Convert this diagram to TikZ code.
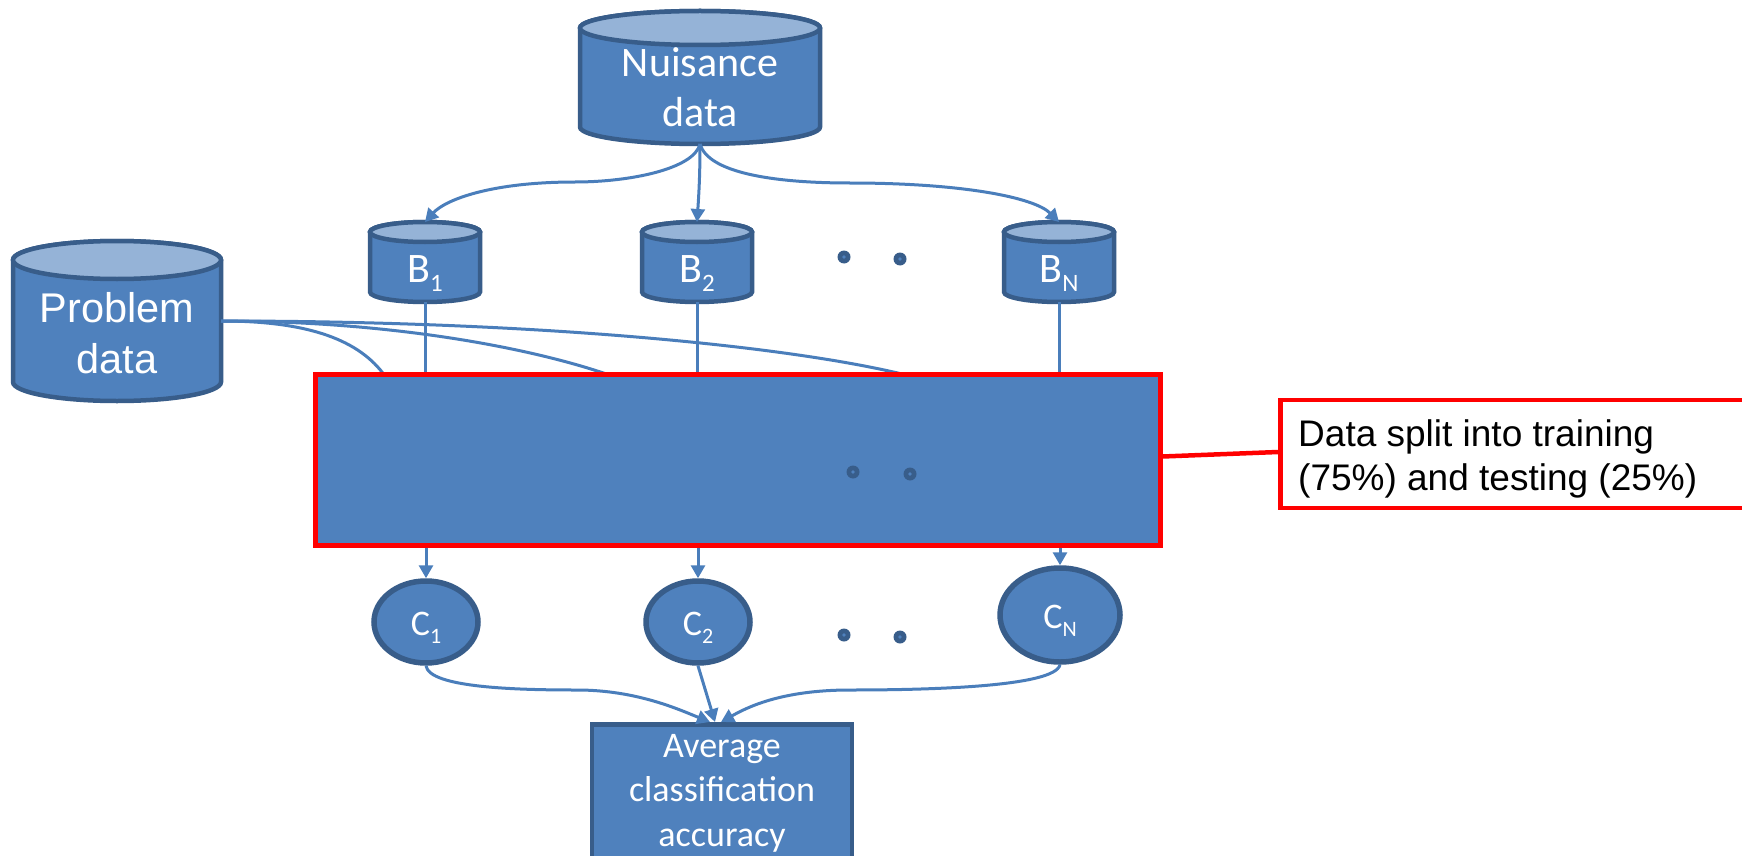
\documentclass[tikz,border=0pt]{standalone}
\usepackage{fontspec}
\setmainfont{Carlito}
\newfontfamily\arialfont{Liberation Sans}
\usetikzlibrary{arrows.meta,shapes.geometric}

\definecolor{boxblue}{HTML}{4F81BD}
\definecolor{rimblue}{HTML}{385D8A}
\definecolor{lidblue}{HTML}{95B3D7}
\definecolor{wireblue}{HTML}{4A7EBB}
\definecolor{alarm}{HTML}{FF0000}

% lowered index for B and C labels
\newcommand\idxB[1]{\raisebox{-9pt}{\fontsize{25pt}{25pt}\selectfont #1}}
\newcommand\idxC[1]{\raisebox{-8pt}{\fontsize{22pt}{22pt}\selectfont #1}}

% cylinder: name, centre x, half width, top lid y, bottom lid y, lid radius
\newcommand\drum[6]{%
  \path[drumbody] ({#2-#3},#4) -- ({#2-#3},#5)
    arc[start angle=180,end angle=360,x radius=#3pt,y radius=#6pt]
    -- ({#2+#3},#4)
    arc[start angle=0,end angle=180,x radius=#3pt,y radius=#6pt] -- cycle;
  \path[drumlid] (#2,#4) ellipse[x radius=#3pt,y radius=#6pt];
  \node[inner sep=0pt,outer sep=0pt,minimum width={2*#3*1pt},
        minimum height={(#5-#4+2*#6)*1pt}] (#1) at (#2,{(#4+#5)/2}) {};
}

% dot used in the ellipsis marks
\newcommand\dotmark[2]{%
  \fill[rimblue] (#1,#2) circle[radius=6.5pt];
  \fill[boxblue] (#1,#2) circle[radius=1.8pt];
}

\tikzset{
  drumbody/.style={fill=boxblue,draw=rimblue,line width=4.5pt},
  drumlid/.style={fill=lidblue,draw=rimblue,line width=4.5pt},
  wire/.style={draw=wireblue,line width=3pt},
  tip/.style={-{Triangle[length=13pt,width=14pt]}},
  label/.style={text=white,inner sep=0pt},
  roundnode/.style={ellipse,fill=boxblue,draw=rimblue,line width=5.5pt,inner sep=0pt},
}

\begin{document}
\begin{tikzpicture}[x=1pt,y=-1pt]
\useasboundingbox (0,0) rectangle (1742,856);
\clip (0,0) rectangle (1742,856);
\fill[white] (0,0) rectangle (1742,856);

% data stores
\drum{nuis}{700}{120}{28}{127}{17}
\drum{prob}{117}{104}{260}{382}{19}
\drum{B1}{425}{55}{232}{292}{10}
\drum{B2}{697}{55}{232}{292}{10}
\drum{BN}{1059}{55}{232}{292}{10}

% multi-line labels are placed by the baseline of their last line
\node[label,anchor=base,align=center,font=\fontsize{42pt}{50pt}\selectfont]
  (nuistxt) at (700,127) {Nuisance\\data};
\node[label,anchor=base,align=center,font=\arialfont\fontsize{41.5pt}{51pt}\selectfont]
  (probtxt) at (117,373) {Problem\\data};
\node[label,anchor=base,font=\fontsize{42pt}{50pt}\selectfont] (B1txt) at (425,282) {B\idxB{1}};
\node[label,anchor=base,font=\fontsize{42pt}{50pt}\selectfont] (B2txt) at (697,282) {B\idxB{2}};
\node[label,anchor=base,font=\fontsize{42pt}{50pt}\selectfont] (BNtxt) at (1059,282) {B\idxB{N}};

\dotmark{844}{257}
\dotmark{900}{259}

% where the problem-data links meet the split box
\coordinate (in1) at (385,376);
\coordinate (in2) at (612,376);
\coordinate (in3) at (910,376);

% problem data fans out to every split
\draw[wire] (prob.east) .. controls +(90,0) and +(-25,-35) .. (in1);
\draw[wire] (prob.east) .. controls +(180,0) and +(-70,-25) .. (in2);
\draw[wire] (prob.east) .. controls +(330,0) and +(-110,-28) .. (in3);

% nuisance data to the subsets
\draw[wire,tip] (nuis.south) .. controls +(-6,25) and +(55,0) .. (575,182)
  .. controls +(-85,0) and +(20,-22) .. (B1.north);
\draw[wire,tip] (nuis.south) .. controls +(0,30) and +(2,-30) .. (B2.north);
\draw[wire,tip] (nuis.south) .. controls +(8,28) and +(-80,0) .. (850,183)
  .. controls +(110,0) and +(-25,-25) .. (BN.north);

% the split box
\node[fill=boxblue,draw=alarm,line width=5pt,inner sep=0pt,
      minimum width=845pt,minimum height=171pt] (split) at (737.5,459.5) {};

\draw[wire] (B1.south) -- (B1.south |- split.north);
\draw[wire] (B2.south) -- (B2.south |- split.north);
\draw[wire] (BN.south) -- (BN.south |- split.north);

\dotmark{853}{472}
\dotmark{910}{474}

% classifiers
\node[roundnode,minimum width=104pt,minimum height=82pt] (C1) at (426,622) {};
\node[roundnode,minimum width=104pt,minimum height=82pt] (C2) at (698,622) {};
\node[roundnode,minimum width=120pt,minimum height=94pt] (CN) at (1060,615) {};
\node[label,anchor=base,font=\fontsize{36pt}{44pt}\selectfont] (C1txt) at (426,635) {C\idxC{1}};
\node[label,anchor=base,font=\fontsize{36pt}{44pt}\selectfont] (C2txt) at (698,635) {C\idxC{2}};
\node[label,anchor=base,font=\fontsize{36pt}{44pt}\selectfont] (CNtxt) at (1060,628) {C\idxC{N}};

\dotmark{844}{635}
\dotmark{900}{637}

\draw[wire,tip] (C1.north |- split.south) -- (C1.north);
\draw[wire,tip] (C2.north |- split.south) -- (C2.north);
\draw[wire,tip] (CN.north |- split.south) -- (CN.north);

% result
\node[fill=boxblue,draw=rimblue,line width=4.5pt,inner sep=0pt,anchor=north,
      minimum width=260pt,minimum height=150pt] (avg) at (722,722) {};
\node[label,anchor=base,align=center,font=\fontsize{36pt}{44.5pt}\selectfont]
  (avgtxt) at (722,846) {Average\\classification\\accuracy};

\draw[wire,tip] (C1.south) .. controls +(3,22) and +(-60,0) .. (577,690)
  .. controls +(60,0) and +(-30,-12) .. ([xshift=-12pt]avg.north);
\draw[wire,tip] (C2.south) -- ([xshift=-7pt]avg.north);
\draw[wire,tip] (CN.south) .. controls +(-5,22) and +(80,0) .. (850,690)
  .. controls +(-70,0) and +(25,-14) .. ([xshift=-1pt]avg.north);

% callout
\node[fill=white,draw=alarm,line width=4.5pt,inner sep=0pt,anchor=west,
      minimum width=500pt,minimum height=108pt] (callout) at (1278,454) {};
\draw[alarm,line width=4.5pt] ([yshift=3pt]split.east) -- ([yshift=2pt]callout.west);
\node[anchor=base west,align=left,inner sep=0pt,
      font=\arialfont\fontsize{37pt}{44pt}\selectfont]
  (note) at (1298,490) {Data split into training\\(75\%) and testing (25\%)};
\end{tikzpicture}
\end{document}
